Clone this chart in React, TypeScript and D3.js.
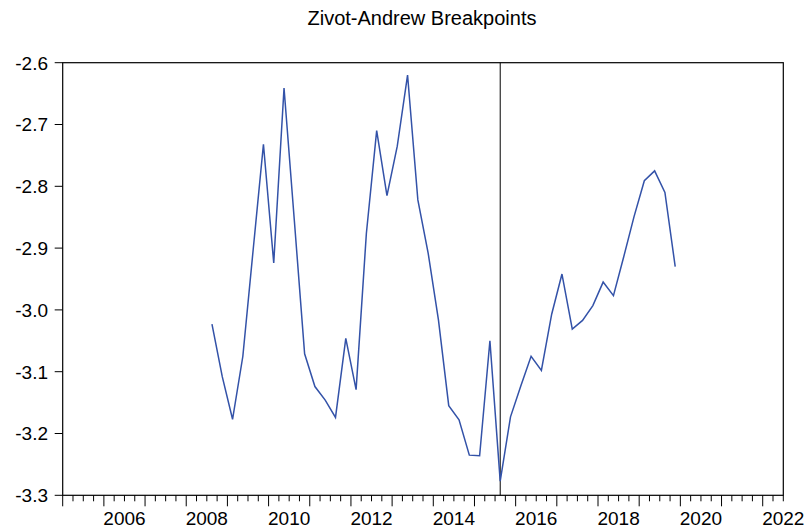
import React from "react";
import * as d3 from "d3";

const quarters: string[] = [
  "2008Q3","2008Q4","2009Q1","2009Q2","2009Q3","2009Q4","2010Q1","2010Q2",
  "2010Q3","2010Q4","2011Q1","2011Q2","2011Q3","2011Q4","2012Q1","2012Q2",
  "2012Q3","2012Q4","2013Q1","2013Q2","2013Q3","2013Q4","2014Q1","2014Q2",
  "2014Q3","2014Q4","2015Q1","2015Q2","2015Q3","2015Q4","2016Q1","2016Q2",
  "2016Q3","2016Q4","2017Q1","2017Q2","2017Q3","2017Q4","2018Q1","2018Q2",
  "2018Q3","2018Q4","2019Q1","2019Q2","2019Q3","2019Q4",
];
const values: number[] = [
  -3.023, -3.108, -3.177, -3.075, -2.903, -2.732, -2.924, -2.641,
  -2.855, -3.071, -3.124, -3.146, -3.174, -3.046, -3.129, -2.876,
  -2.710, -2.815, -2.735, -2.620, -2.822, -2.908, -3.016, -3.155,
  -3.178, -3.235, -3.236, -3.050, -3.277, -3.173, -3.123, -3.075,
  -3.098, -3.007, -2.942, -3.031, -3.017, -2.993, -2.955, -2.977,
  -2.914, -2.849, -2.791, -2.775, -2.810, -2.930,
];
const breakpoint = "2015Q3";
const yTicks: number[] = [-3.3, -3.2, -3.1, -3.0, -2.9, -2.8, -2.7, -2.6];
const yearLabels: number[] = [2006, 2008, 2010, 2012, 2014, 2016, 2018, 2020, 2022];
const axisStart = 2005;
const axisEnd = 2022.5;
const title = "Zivot-Andrew Breakpoints";

const qToT = (q: string) => {
  const y = +q.slice(0, 4);
  const n = +q.slice(5);
  return y + (n - 1) / 4 + 0.125;
};

export default function App() {
  const W = 808, H = 530;
  const L = 62.7, R = 783.3, T = 62.7, B = 495.3;
  const x = d3.scaleLinear().domain([axisStart, axisEnd]).range([L, R]);
  const y = d3.scaleLinear().domain([-3.3, -2.6]).range([B, T]);
  const line = d3
    .line<number>()
    .x((_, i) => x(qToT(quarters[i])))
    .y((v) => y(v));
  const font = "'Liberation Sans', Arial, sans-serif";
  const qTicks: number[] = d3.range(axisStart * 4, axisEnd * 4 + 1).map((k) => k / 4);
  const bx = x(qToT(breakpoint));
  return (
    <svg width={W} height={H} style={{ position: "absolute", left: 0, top: 0, background: "#fff" }}>
      <rect x={0} y={0} width={W} height={H} fill="#fff" />
      <text x={422} y={25} textAnchor="middle" fontFamily={font} fontSize={20} fill="#000">
        {title}
      </text>
      <rect x={L} y={T} width={R - L} height={B - T} fill="none" stroke="#000" strokeWidth={1.2} />
      {yTicks.map((t) => (
        <g key={t}>
          <line x1={L - 8} x2={L} y1={y(t)} y2={y(t)} stroke="#000" strokeWidth={1} />
          <text x={48} y={y(t)} dy="0.36em" textAnchor="end" fontFamily={font} fontSize={19} fill="#000">
            {t.toFixed(1)}
          </text>
        </g>
      ))}
      {qTicks.map((t) => {
        const major = Math.abs(t - Math.round(t)) < 1e-9;
        return (
          <line key={t} x1={x(t)} x2={x(t)} y1={B} y2={B + (major ? 11 : 6)} stroke="#000" strokeWidth={1} />
        );
      })}
      {yearLabels.map((yr) => (
        <text key={yr} x={x(yr + 0.5)} y={525} textAnchor="middle" fontFamily={font} fontSize={19} fill="#000">
          {yr}
        </text>
      ))}
      <line x1={bx} x2={bx} y1={T} y2={B} stroke="#000" strokeWidth={1} />
      <path d={line(values) || ""} fill="none" stroke="#3352a8" strokeWidth={1.5} />
    </svg>
  );
}
